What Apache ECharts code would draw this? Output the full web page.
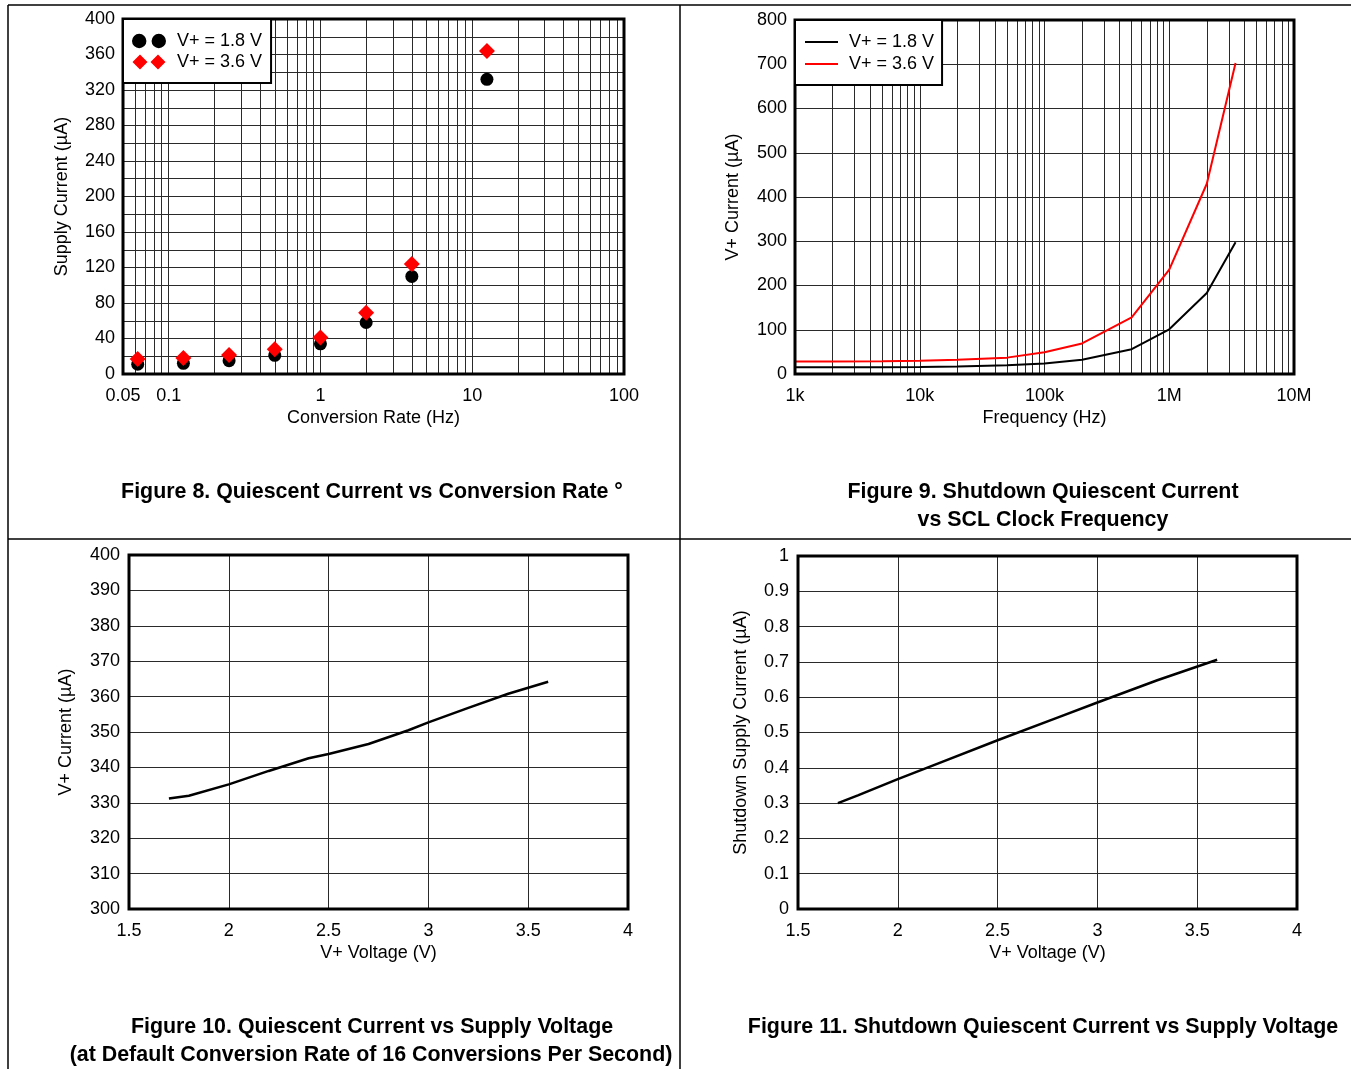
<!DOCTYPE html>
<html>
<head>
<meta charset="utf-8">
<script src="https://cdn.jsdelivr.net/npm/echarts@6/dist/echarts.min.js"></script>
<style>
  html, body { margin: 0; padding: 0; background: #fff; }
  #chart { width: 1351px; height: 1069px; }
</style>
</head>
<body>
<div id="chart"></div>
<script>
// ---------- Data ----------
// Figure 8: Quiescent current vs conversion rate
const rateHz = [0.0625, 0.125, 0.25, 0.5, 1, 2, 4, 12.5];
const iq18 = [11, 12, 15, 21, 34, 58, 110, 332];
const iq36 = [17, 18, 21.5, 28, 41, 69, 124, 364];
const rateGridValues = [0.06, 0.07, 0.08, 0.09, 0.1, 0.2, 0.3, 0.4, 0.5, 0.6, 0.7, 0.8, 0.9,
  1, 2, 3, 4, 5, 6, 7, 8, 9, 10, 20, 30, 40, 50, 60, 70, 80, 90];

// Figure 9: Shutdown quiescent current vs SCL clock frequency
const freqHz = [1e3, 2e3, 5e3, 1e4, 2e4, 5e4, 1e5, 2e5, 5e5, 1e6, 2e6, 3.4e6];
const sd18 = [15, 15, 15.5, 16, 17, 19.5, 24, 32, 56, 101, 183, 298];
const sd36 = [28, 28.5, 29, 30, 32, 37, 49, 69, 128, 236, 430, 703];
const freqGridValues = [2e3, 3e3, 4e3, 5e3, 6e3, 7e3, 8e3, 9e3, 1e4,
  2e4, 3e4, 4e4, 5e4, 6e4, 7e4, 8e4, 9e4, 1e5,
  2e5, 3e5, 4e5, 5e5, 6e5, 7e5, 8e5, 9e5, 1e6,
  2e6, 3e6, 4e6, 5e6, 6e6, 7e6, 8e6, 9e6];
const freqTickLabels = { 3: '1k', 4: '10k', 5: '100k', 6: '1M', 7: '10M' };

// Figure 10: Quiescent current vs supply voltage
const vSupply10 = [1.7, 1.8, 2.0, 2.2, 2.4, 2.5, 2.7, 2.9, 3.0, 3.2, 3.4, 3.6];
const iq10 = [331.2, 332, 335.2, 339, 342.6, 343.8, 346.6, 350.5, 352.7, 356.8, 360.8, 364.2];

// Figure 11: Shutdown quiescent current vs supply voltage
const vSupply11 = [1.7, 1.8, 2.0, 2.2, 2.5, 2.8, 3.0, 3.3, 3.6];
const isd11 = [0.30, 0.322, 0.368, 0.412, 0.478, 0.542, 0.585, 0.648, 0.706];

const legendNames = { a18: 'V+ = 1.8 V', a36: 'V+ = 3.6 V', b18: 'V+ = 1.8 V', b36: 'V+ = 3.6 V' };

// ---------- Styling ----------
const FONT = '"Liberation Sans", Arial, Helvetica, sans-serif';
const GRIDC = '#2a2a2a';
const labelStyle = { color: '#000', fontSize: 18, fontFamily: FONT };
const nameStyle = { color: '#000', fontSize: 18, fontFamily: FONT };
const TITLE_FONT = 'bold 21.4px ' + FONT;

function pair(xs, ys) { return xs.map((x, i) => [x, ys[i]]); }

function gridMarkLine(values) {
  return {
    silent: true, z: 1, animation: false,
    symbol: ['none', 'none'],
    label: { show: false },
    emphasis: { disabled: true },
    lineStyle: { color: GRIDC, width: 1, type: 'solid' },
    data: values.map(v => ({ xAxis: v }))
  };
}

const gridBase = { show: true, borderColor: '#000', borderWidth: 3, backgroundColor: 'transparent', z: 6, containLabel: false };

const option = {
  backgroundColor: '#fff',
  animation: false,
  textStyle: { fontFamily: FONT },
  grid: [
    Object.assign({ left: 123, top: 19, width: 501, height: 355 }, gridBase),
    Object.assign({ left: 795, top: 20, width: 499, height: 354 }, gridBase),
    Object.assign({ left: 129, top: 555, width: 499, height: 354 }, gridBase),
    Object.assign({ left: 798, top: 556, width: 499, height: 353 }, gridBase)
  ],
  xAxis: [
    {
      gridIndex: 0, type: 'log', logBase: 10, min: 0.05, max: 100,
      axisLine: { show: false }, axisTick: { show: false }, splitLine: { show: false },
      axisLabel: Object.assign({ margin: 13, formatter: v => String(Math.round(v * 1000) / 1000) }, labelStyle),
      name: 'Conversion Rate (Hz)', nameLocation: 'middle', nameGap: 35, nameTextStyle: nameStyle
    },
    {
      gridIndex: 1, type: 'log', logBase: 10, min: 1e3, max: 1e7,
      axisLine: { show: false }, axisTick: { show: false }, splitLine: { show: false },
      axisLabel: Object.assign({ margin: 13, formatter: v => freqTickLabels[Math.round(Math.log10(v))] || '' }, labelStyle),
      name: 'Frequency (Hz)', nameLocation: 'middle', nameGap: 35, nameTextStyle: nameStyle
    },
    {
      gridIndex: 2, type: 'value', min: 1.5, max: 4, interval: 0.5,
      axisLine: { show: false }, axisTick: { show: false },
      splitLine: { show: true, lineStyle: { color: GRIDC, width: 1 } },
      axisLabel: Object.assign({ margin: 13 }, labelStyle),
      name: 'V+ Voltage (V)', nameLocation: 'middle', nameGap: 35, nameTextStyle: nameStyle
    },
    {
      gridIndex: 3, type: 'value', min: 1.5, max: 4, interval: 0.5,
      axisLine: { show: false }, axisTick: { show: false },
      splitLine: { show: true, lineStyle: { color: GRIDC, width: 1 } },
      axisLabel: Object.assign({ margin: 13 }, labelStyle),
      name: 'V+ Voltage (V)', nameLocation: 'middle', nameGap: 35, nameTextStyle: nameStyle
    }
  ],
  yAxis: [
    {
      gridIndex: 0, type: 'value', min: 0, max: 400, interval: 20,
      axisLine: { show: false }, axisTick: { show: false },
      splitLine: { show: true, lineStyle: { color: GRIDC, width: 1 } },
      axisLabel: Object.assign({ margin: 8, formatter: v => (v % 40 === 0 ? String(v) : '') }, labelStyle),
      name: 'Supply Current (µA)', nameLocation: 'middle', nameGap: 52, nameTextStyle: nameStyle
    },
    {
      gridIndex: 1, type: 'value', min: 0, max: 800, interval: 100,
      axisLine: { show: false }, axisTick: { show: false },
      splitLine: { show: true, lineStyle: { color: GRIDC, width: 1 } },
      axisLabel: Object.assign({ margin: 8 }, labelStyle),
      name: 'V+ Current (µA)', nameLocation: 'middle', nameGap: 53, nameTextStyle: nameStyle
    },
    {
      gridIndex: 2, type: 'value', min: 300, max: 400, interval: 10,
      axisLine: { show: false }, axisTick: { show: false },
      splitLine: { show: true, lineStyle: { color: GRIDC, width: 1 } },
      axisLabel: Object.assign({ margin: 9 }, labelStyle),
      name: 'V+ Current (µA)', nameLocation: 'middle', nameGap: 54, nameTextStyle: nameStyle
    },
    {
      gridIndex: 3, type: 'value', min: 0, max: 1, interval: 0.1,
      axisLine: { show: false }, axisTick: { show: false },
      splitLine: { show: true, lineStyle: { color: GRIDC, width: 1 } },
      axisLabel: Object.assign({ margin: 9 }, labelStyle),
      name: 'Shutdown Supply Current (µA)', nameLocation: 'middle', nameGap: 48, nameTextStyle: nameStyle
    }
  ],
  legend: [
    {
      orient: 'vertical', left: 123, top: 19, selectedMode: false, z: 10,
      backgroundColor: '#fff', borderColor: '#000', borderWidth: 2,
      padding: [13, 9, 12, 9], itemGap: 3, itemWidth: 34, itemHeight: 15,
      formatter: n => legendNames[n],
      textStyle: { color: '#000', fontSize: 18, fontFamily: FONT, padding: [0, 0, 0, 6] },
      data: [
        { name: 'a18', icon: 'path://M0,7a7,7 0 1,0 14,0a7,7 0 1,0 -14,0zM19,7a7,7 0 1,0 14,0a7,7 0 1,0 -14,0z' },
        { name: 'a36', icon: 'path://M7.5,0L15,7.5L7.5,15L0,7.5zM25.5,0L33,7.5L25.5,15L18,7.5z' }
      ]
    },
    {
      orient: 'vertical', left: 795, top: 20, selectedMode: false, z: 10,
      backgroundColor: '#fff', borderColor: '#000', borderWidth: 2,
      padding: [13, 8, 12, 10], itemGap: 4, itemWidth: 33, itemHeight: 2,
      formatter: n => legendNames[n],
      textStyle: { color: '#000', fontSize: 18, fontFamily: FONT, padding: [0, 0, 0, 6] },
      data: [
        { name: 'b18', icon: 'rect' },
        { name: 'b36', icon: 'rect' }
      ]
    }
  ],
  series: [
    {
      name: 'a18', type: 'scatter', xAxisIndex: 0, yAxisIndex: 0, z: 3,
      symbol: 'circle', symbolSize: 13, itemStyle: { color: '#000', opacity: 1 },
      data: pair(rateHz, iq18),
      markLine: gridMarkLine(rateGridValues)
    },
    {
      name: 'a36', type: 'scatter', xAxisIndex: 0, yAxisIndex: 0, z: 4,
      symbol: 'diamond', symbolSize: 16, itemStyle: { color: '#ff0000', opacity: 1 },
      data: pair(rateHz, iq36)
    },
    {
      name: 'b18', type: 'line', xAxisIndex: 1, yAxisIndex: 1, z: 3,
      showSymbol: false, symbol: 'none', itemStyle: { color: '#000' },
      lineStyle: { color: '#000', width: 2 },
      data: pair(freqHz, sd18),
      markLine: gridMarkLine(freqGridValues)
    },
    {
      name: 'b36', type: 'line', xAxisIndex: 1, yAxisIndex: 1, z: 4,
      showSymbol: false, symbol: 'none', itemStyle: { color: '#ff0000' },
      lineStyle: { color: '#ff0000', width: 2 },
      data: pair(freqHz, sd36)
    },
    {
      name: 'c', type: 'line', xAxisIndex: 2, yAxisIndex: 2, z: 3,
      showSymbol: false, symbol: 'none',
      lineStyle: { color: '#000', width: 2.5 },
      data: pair(vSupply10, iq10)
    },
    {
      name: 'd', type: 'line', xAxisIndex: 3, yAxisIndex: 3, z: 3,
      showSymbol: false, symbol: 'none',
      lineStyle: { color: '#000', width: 2.5 },
      data: pair(vSupply11, isd11)
    }
  ],
  graphic: [
    { type: 'line', silent: true, shape: { x1: 8, y1: 5, x2: 1351, y2: 5 }, style: { stroke: '#000', lineWidth: 1.5 } },
    { type: 'line', silent: true, shape: { x1: 8, y1: 539, x2: 1351, y2: 539 }, style: { stroke: '#000', lineWidth: 1.5 } },
    { type: 'line', silent: true, shape: { x1: 8, y1: 5, x2: 8, y2: 1069 }, style: { stroke: '#000', lineWidth: 1.5 } },
    { type: 'line', silent: true, shape: { x1: 680, y1: 5, x2: 680, y2: 1069 }, style: { stroke: '#000', lineWidth: 1.5 } },
    { type: 'text', silent: true, x: 372, y: 492, style: { text: 'Figure 8. Quiescent Current vs Conversion Rate °', align: 'center', verticalAlign: 'middle', font: TITLE_FONT, fill: '#000' } },
    { type: 'text', silent: true, x: 1043, y: 492, style: { text: 'Figure 9. Shutdown Quiescent Current', align: 'center', verticalAlign: 'middle', font: TITLE_FONT, fill: '#000' } },
    { type: 'text', silent: true, x: 1043, y: 520, style: { text: 'vs SCL Clock Frequency', align: 'center', verticalAlign: 'middle', font: TITLE_FONT, fill: '#000' } },
    { type: 'text', silent: true, x: 372, y: 1027, style: { text: 'Figure 10. Quiescent Current vs Supply Voltage', align: 'center', verticalAlign: 'middle', font: TITLE_FONT, fill: '#000' } },
    { type: 'text', silent: true, x: 371, y: 1055, style: { text: '(at Default Conversion Rate of 16 Conversions Per Second)', align: 'center', verticalAlign: 'middle', font: TITLE_FONT, fill: '#000' } },
    { type: 'text', silent: true, x: 1043, y: 1027, style: { text: 'Figure 11. Shutdown Quiescent Current vs Supply Voltage', align: 'center', verticalAlign: 'middle', font: TITLE_FONT, fill: '#000' } }
  ]
};

const chart = echarts.init(document.getElementById('chart'), null, { renderer: 'canvas' });
chart.setOption(option);
</script>
</body>
</html>
